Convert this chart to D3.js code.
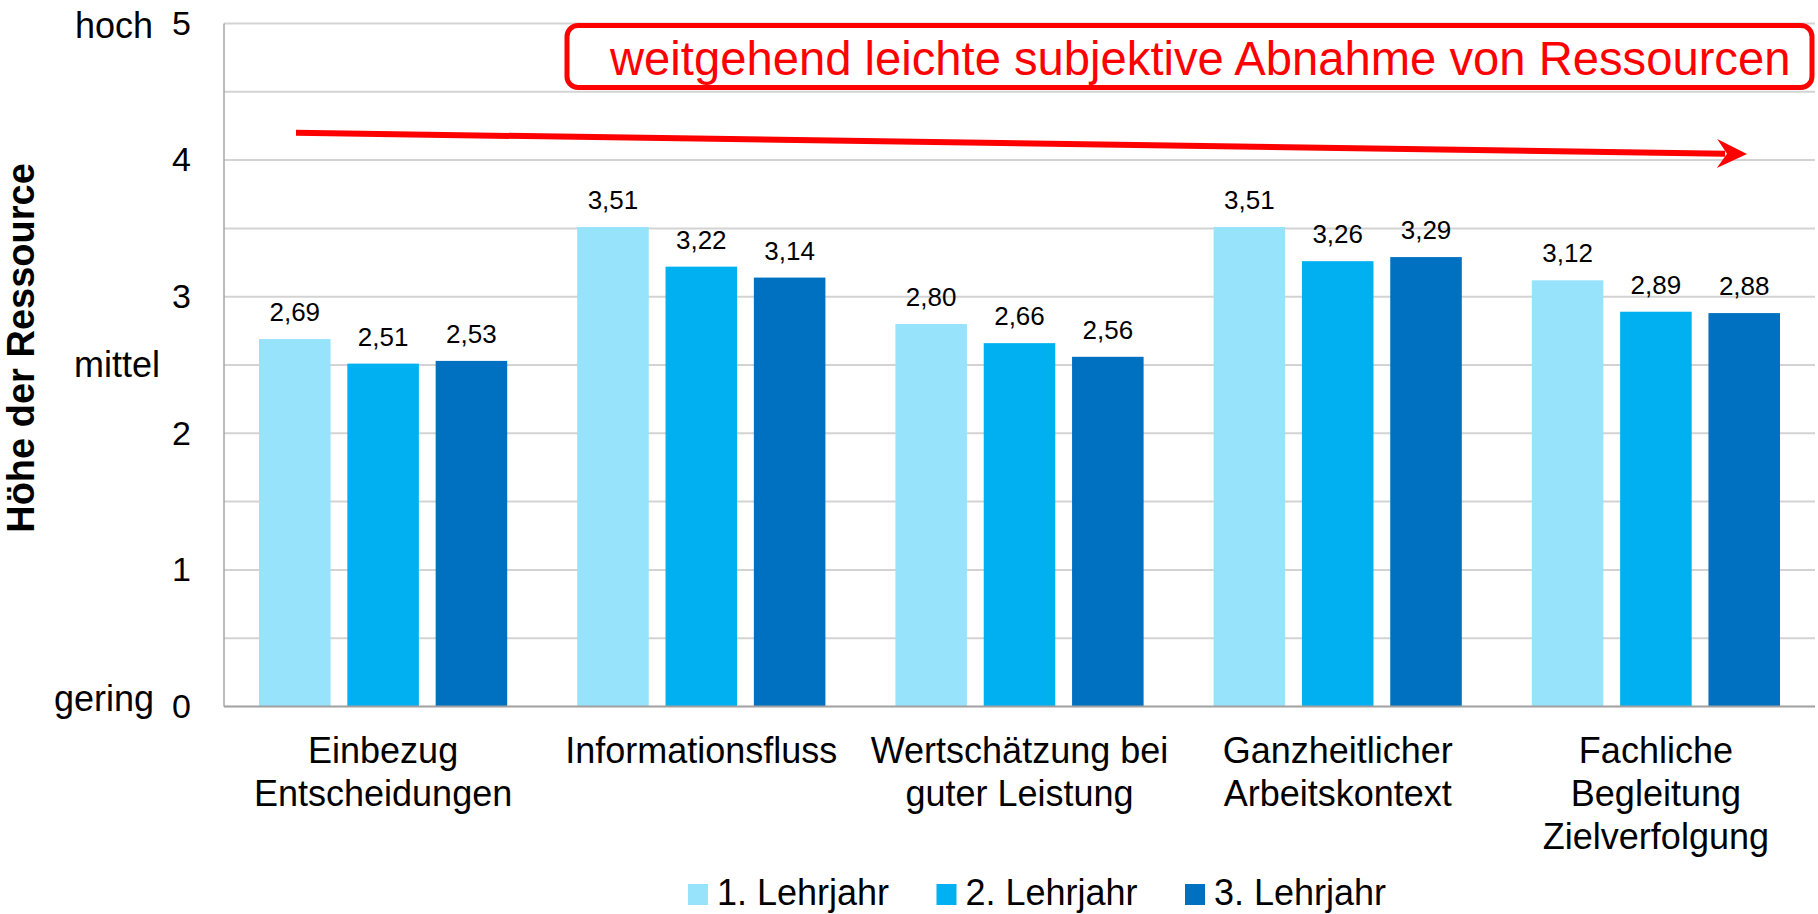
<!DOCTYPE html>
<html>
<head>
<meta charset="utf-8">
<script src="https://cdn.jsdelivr.net/npm/d3@7"></script>
<style>
  html, body { margin: 0; padding: 0; background: #ffffff; }
  svg { display: block; }
  text { font-family: "Liberation Sans", Arial, sans-serif; fill: #000; }
</style>
</head>
<body>
<svg id="chart" width="1818" height="914"></svg>
<script>
// ---- data ----
const categories = ["Einbezug Entscheidungen", "Informationsfluss", "Wertschätzung bei guter Leistung", "Ganzheitlicher Arbeitskontext", "Fachliche Begleitung Zielverfolgung"];
const categoryLines = [["Einbezug", "Entscheidungen"], ["Informationsfluss"], ["Wertschätzung bei", "guter Leistung"], ["Ganzheitlicher", "Arbeitskontext"], ["Fachliche", "Begleitung", "Zielverfolgung"]];
const seriesNames = ["1. Lehrjahr", "2. Lehrjahr", "3. Lehrjahr"];
const values1 = [2.69, 3.51, 2.80, 3.51, 3.12];
const values2 = [2.51, 3.22, 2.66, 3.26, 2.89];
const values3 = [2.53, 3.14, 2.56, 3.29, 2.88];
const seriesColors = ["#98E3FC", "#00B0F0", "#0070C0"];
const yTicks = [0, 1, 2, 3, 4, 5];
const yGrid = [0.5, 1, 1.5, 2, 2.5, 3, 3.5, 4, 4.5, 5];
const levelLabels = ["hoch", "mittel", "gering"];
const levelValues = [5, 2.5, 0];
const yTitle = "Höhe der Ressource";
const annotationText = "weitgehend leichte subjektive Abnahme von Ressourcen";

const seriesValues = [values1, values2, values3];
const rows = categories.map((c, i) => ({
  cat: c, lines: categoryLines[i],
  vals: seriesNames.map((s, j) => ({ s, j, v: seriesValues[j][i] }))
}));

// ---- layout ----
const svg = d3.select("#chart");
const plot = { left: 224, right: 1815, top: 23.5, bottom: 706.5 };

const x0 = d3.scaleBand().domain(categories).range([plot.left, plot.right]).paddingInner(0).paddingOuter(0);
const x1 = d3.scaleBand().domain(seriesNames).range([35, x0.bandwidth() - 35]).paddingInner(0.19).paddingOuter(0);
const y = d3.scaleLinear().domain([0, 5]).range([plot.bottom, plot.top]);

const de = d3.formatLocale({ decimal: ",", thousands: ".", grouping: [3], currency: ["", " €"] });
const fmt = de.format(".2f");

// gridlines
svg.append("g").selectAll("line").data(yGrid).join("line")
  .attr("x1", plot.left).attr("x2", plot.right)
  .attr("y1", d => y(d)).attr("y2", d => y(d))
  .attr("stroke", "#d3d3d3").attr("stroke-width", 2);

// y axis line
svg.append("line").attr("x1", plot.left).attr("x2", plot.left)
  .attr("y1", y(5)).attr("y2", y(0)).attr("stroke", "#a6a6a6").attr("stroke-width", 1.5);

// bars
const groups = svg.append("g").selectAll("g").data(rows).join("g")
  .attr("transform", d => `translate(${x0(d.cat)},0)`);
groups.selectAll("rect").data(d => d.vals).join("rect")
  .attr("x", d => x1(d.s)).attr("width", x1.bandwidth())
  .attr("y", d => y(d.v)).attr("height", d => y(0) - y(d.v))
  .attr("fill", d => seriesColors[d.j]);
groups.selectAll("text.val").data(d => d.vals).join("text").attr("class", "val")
  .attr("x", d => x1(d.s) + x1.bandwidth() / 2)
  .attr("y", d => y(d.v) - 18)
  .attr("text-anchor", "middle").attr("font-size", 26)
  .text(d => fmt(d.v));

// x axis baseline
svg.append("line").attr("x1", plot.left).attr("x2", plot.right)
  .attr("y1", y(0)).attr("y2", y(0)).attr("stroke", "#a0a0a0").attr("stroke-width", 2);

// category labels
const catG = svg.append("g").selectAll("text").data(rows).join("text")
  .attr("text-anchor", "middle").attr("font-size", 36)
  .attr("transform", d => `translate(${x0(d.cat) + x0.bandwidth() / 2},763)`);
catG.selectAll("tspan").data(d => d.lines).join("tspan")
  .attr("x", 0).attr("y", (d, i) => i * 43).text(d => d);

// y tick labels
svg.append("g").selectAll("text").data(yTicks).join("text")
  .attr("x", 191).attr("y", d => y(d)).attr("dy", "0.33em")
  .attr("text-anchor", "end").attr("font-size", 34).text(d => d);

// level labels
const levelDy = [14, 12, 4];
const levelX = [153, 160, 154];
svg.append("g").selectAll("text").data(levelLabels).join("text")
  .attr("x", (d, i) => levelX[i]).attr("y", (d, i) => y(levelValues[i]) + levelDy[i])
  .attr("text-anchor", "end").attr("font-size", 36).text(d => d);

// y axis title
svg.append("text").attr("transform", "translate(34,348) rotate(-90)")
  .attr("text-anchor", "middle").attr("font-size", 38).attr("font-weight", "bold").text(yTitle);

// annotation box
svg.append("rect").attr("x", 567).attr("y", 25.5).attr("width", 1245).attr("height", 62)
  .attr("rx", 11).attr("fill", "#fff").attr("stroke", "#ff0000").attr("stroke-width", 5);
svg.append("text").attr("x", 610).attr("y", 75).attr("font-size", 47.2).style("fill", "#ff0000")
  .text(annotationText);

// trend arrow
const ax0 = 296, ay0 = y(4.2), ax1 = 1747, ay1 = y(4.045);
const ang = Math.atan2(ay1 - ay0, ax1 - ax0);
svg.append("line").attr("x1", ax0).attr("y1", ay0)
  .attr("x2", ax1 - 22 * Math.cos(ang)).attr("y2", ay1 - 22 * Math.sin(ang))
  .attr("stroke", "#ff0000").attr("stroke-width", 6);
const head = [[0, 0], [-30, -14.5], [-20, 0], [-30, 14.5]].map(([px, py]) => [
  ax1 + px * Math.cos(ang) - py * Math.sin(ang), ay1 + px * Math.sin(ang) + py * Math.cos(ang)]);
svg.append("polygon").attr("points", head.map(p => p.join(",")).join(" ")).attr("fill", "#ff0000");

// legend
const legend = svg.append("g").selectAll("g").data(seriesNames).join("g")
  .attr("transform", (d, i) => `translate(${688 + i * 248.5},0)`);
legend.append("rect").attr("x", 0).attr("y", 884).attr("width", 20).attr("height", 21)
  .attr("fill", (d, i) => seriesColors[i]);
legend.append("text").attr("x", 29).attr("y", 905).attr("font-size", 36).text(d => d);
</script>
</body>
</html>
